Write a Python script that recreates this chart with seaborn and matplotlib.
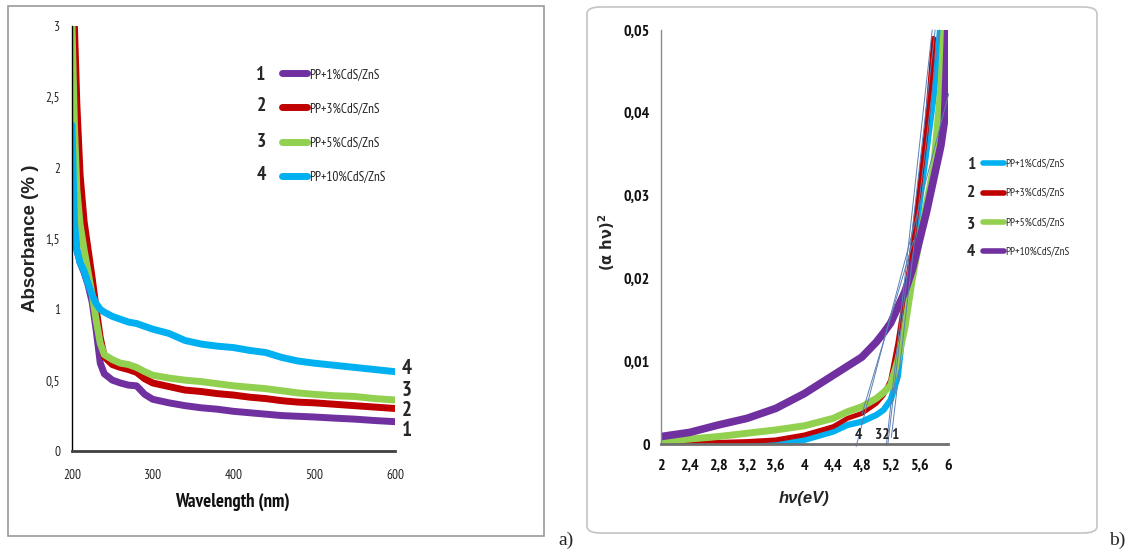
import numpy as np
import pandas as pd
import matplotlib
matplotlib.use("Agg")
import matplotlib.pyplot as plt
import seaborn as sns
from matplotlib.lines import Line2D
from matplotlib.patches import Rectangle, FancyBboxPatch
from matplotlib import font_manager

# ---------------- data: panel a) ----------------
wavelength = [200, 203, 206, 210, 215, 220, 225, 230, 235, 240, 250, 260, 270, 280, 290,
              300, 320, 340, 360, 380, 400, 420, 440, 460, 480, 500, 525, 550, 575, 600]
abs_1 = [2.00, 1.60, 1.42, 1.33, 1.26, 1.17, 1.05, 0.85, 0.62, 0.545, 0.50, 0.48, 0.465, 0.46, 0.40,
         0.365, 0.34, 0.32, 0.305, 0.295, 0.28, 0.27, 0.26, 0.25, 0.245, 0.24, 0.232, 0.225, 0.215, 0.207]
abs_3 = [np.nan, 3.00, 2.45, 1.95, 1.62, 1.42, 1.22, 1.00, 0.80, 0.665, 0.61, 0.59, 0.575, 0.555, 0.51,
         0.48, 0.455, 0.43, 0.42, 0.405, 0.395, 0.38, 0.37, 0.355, 0.345, 0.34, 0.33, 0.32, 0.31, 0.30]
abs_5 = [3.00, 2.30, 1.85, 1.60, 1.42, 1.26, 1.10, 0.92, 0.76, 0.68, 0.645, 0.62, 0.61, 0.59, 0.56,
         0.535, 0.515, 0.50, 0.49, 0.475, 0.46, 0.45, 0.44, 0.425, 0.41, 0.40, 0.39, 0.385, 0.37, 0.36]
abs_10 = [2.30, 1.62, 1.42, 1.33, 1.27, 1.18, 1.10, 1.04, 1.00, 0.98, 0.95, 0.93, 0.91, 0.90, 0.88,
          0.86, 0.83, 0.78, 0.755, 0.74, 0.73, 0.71, 0.695, 0.66, 0.635, 0.62, 0.605, 0.59, 0.575, 0.56]

# ---------------- data: panel b) ----------------
hv = [2.0, 2.4, 2.8, 3.2, 3.6, 4.0, 4.4, 4.6, 4.8, 5.0, 5.1, 5.2, 5.3, 5.4, 5.5, 5.6, 5.7, 5.8, 5.9, 5.95, 6.0]
ahv_1 = [0.0, 0.0, 0.0, 0.0, 0.0002, 0.0005, 0.0015, 0.0023, 0.0027, 0.0035, 0.0041, 0.0053, 0.0081,
         0.0161, 0.0222, 0.0288, 0.0354, 0.0420, 0.0510, np.nan, np.nan]
ahv_3 = [0.0, 0.0001, 0.0002, 0.0003, 0.0005, 0.0011, 0.0021, 0.0031, 0.0037, 0.0049, 0.0059, 0.0077,
         0.0122, 0.0177, 0.0235, 0.0306, 0.0380, 0.0490, np.nan, np.nan, np.nan]
ahv_5 = [0.0003, 0.0006, 0.0009, 0.0013, 0.0017, 0.0022, 0.0031, 0.0039, 0.0045, 0.0055, 0.0062, 0.0071,
         0.0101, 0.0141, 0.0198, 0.0245, 0.0290, 0.0335, 0.0430, 0.0510, np.nan]
ahv_10 = [0.0009, 0.0014, 0.0023, 0.0031, 0.0043, 0.0061, 0.0083, 0.0094, 0.0105, 0.0123, 0.0134, 0.0146,
          0.0165, 0.0184, 0.0210, 0.0245, 0.0280, 0.0320, 0.0360, 0.0390, 0.0510]

# tangent (extrapolation) lines: x-start, y-start, x-end, y-end
tan_x0 = [4.72, 4.80, 5.14, 5.16, 5.21]
tan_y0 = [-0.0003, 0.0036, -0.0002, -0.0002, 0.0008]
tan_x1 = [6.01, 5.52, 5.78, 5.82, 5.88]
tan_y1 = [0.0423, 0.0246, 0.0500, 0.0500, 0.0500]

labels = ["PP+1%CdS/ZnS", "PP+3%CdS/ZnS", "PP+5%CdS/ZnS", "PP+10%CdS/ZnS"]
left_ticks_y = [0, 0.5, 1, 1.5, 2, 2.5, 3]
left_ticklabels_y = ["0", "0,5", "1", "1,5", "2", "2,5", "3"]
left_ticks_x = [200, 300, 400, 500, 600]
right_ticks_y = [0, 0.01, 0.02, 0.03, 0.04, 0.05]
right_ticklabels_y = ["0", "0,01", "0,02", "0,03", "0,04", "0,05"]
right_ticks_x = [2, 2.4, 2.8, 3.2, 3.6, 4, 4.4, 4.8, 5.2, 5.6, 6]
right_ticklabels_x = ["2", "2,4", "2,8", "3,2", "3,6", "4", "4,4", "4,8", "5,2", "5,6", "6"]

PURPLE, RED, GREEN, CYAN = "#7030A0", "#C00000", "#92D050", "#00B0F0"

sns.set_theme(style="white")

# look for a narrow / condensed sans font that also has a bold face
ttf = font_manager.fontManager.ttflist
fam_weights = {}
for f in ttf:
    w = f.weight if isinstance(f.weight, int) else 400
    fam_weights.setdefault(f.name, set()).add(w)
NARROW, K = None, 1.0
cands = [n for n in fam_weights if ("Narrow" in n or "Condensed" in n)
         and not any(b in n for b in ["Light", "Thin", "Medium", "Black", "Semi", "Extra", "Mono"])]
cands.sort(key=lambda n: (0 if "Narrow" in n else 1))
for n in cands:
    ws = fam_weights[n]
    if any(w >= 650 for w in ws) and any(350 <= w <= 450 for w in ws):
        NARROW = n
        break
if NARROW is None:
    NARROW, K = "Liberation Sans", 0.84
plt.rcParams["font.family"] = [NARROW, "DejaVu Sans"]

W, H = 1130, 554
fig = plt.figure(figsize=(W / 100, H / 100), dpi=100)

def fx(px):
    return px / W

def fy(py):
    return 1 - py / H

# frames
fig.add_artist(Rectangle((fx(8), fy(536)), fx(544) - fx(8), fy(6) - fy(536),
                         transform=fig.transFigure, fill=False, ec="#9a9a9a", lw=1.2))
fig.add_artist(FancyBboxPatch((fx(587), fy(533)), fx(1097) - fx(587), fy(7) - fy(533),
                              boxstyle="round,pad=0,rounding_size=0.012",
                              transform=fig.transFigure, fill=False, ec="#c4c4c4", lw=1.2))

# ---------------- panel a ----------------
axa = fig.add_axes([fx(72), fy(451), fx(395) - fx(72), fy(26) - fy(451)])
dfa = pd.DataFrame({"wl": wavelength * 4,
                    "A": abs_1 + abs_3 + abs_5 + abs_10,
                    "s": sum([[l] * len(wavelength) for l in labels], [])}).dropna()
sns.lineplot(data=dfa, x="wl", y="A", hue="s", hue_order=labels,
             palette=[PURPLE, RED, GREEN, CYAN], lw=5, legend=False, ax=axa,
             sort=False, estimator=None, solid_capstyle="round")
axa.set_xlim(200, 600)
axa.set_ylim(0, 3)
axa.set_xticks(left_ticks_x)
axa.set_xticklabels([str(t) for t in left_ticks_x])
axa.set_yticks(left_ticks_y)
axa.set_yticklabels(left_ticklabels_y)
axa.tick_params(axis="y", length=0, pad=8.5, labelsize=9.5 * K, colors="#222222")
axa.tick_params(axis="x", length=0, pad=13, labelsize=9.5 * K, colors="#222222")
axa.set_xlabel("")
axa.set_ylabel("")
for s in ["top", "right"]:
    axa.spines[s].set_visible(False)
axa.spines["left"].set_color("#000000")
axa.spines["left"].set_linewidth(1.0)
axa.spines["bottom"].set_color("#404040")
axa.spines["bottom"].set_linewidth(2.0)
axa.patch.set_alpha(0)

la = axa.legend(handles=[Line2D([], [], color=c, lw=5, solid_capstyle="round") for c in [PURPLE, RED, GREEN, CYAN]],
                labels=labels, loc="upper left", bbox_to_anchor=(fx(282), fy(68)),
                bbox_transform=fig.transFigure, frameon=False, fontsize=9.5 * K,
                handlelength=1.9 / K, handletextpad=0.15, labelspacing=1.6 / K,
                borderpad=0, borderaxespad=0)
for t in la.get_texts():
    t.set_color("#222222")
for num, py in zip(["1", "2", "3", "4"], [75, 106, 142, 175]):
    fig.text(fx(261), fy(py), num, ha="center", va="center", fontsize=14 * K, fontweight="bold")
for num, py in zip(["4", "3", "2", "1"], [368, 390, 410, 431]):
    fig.text(fx(407), fy(py), num, ha="center", va="center", fontsize=15 * K, fontweight="bold")

fig.text(fx(31), fy(238), "Absorbance (% )", rotation=90, ha="center", va="center",
         fontsize=13.5, fontweight="bold", family=["Liberation Sans", "DejaVu Sans"], color="#222222")
fig.text(fx(232), fy(502), "Wavelength (nm)", ha="center", va="center",
         fontsize=13.5 * K, fontweight="bold", color="#111111")

# ---------------- panel b ----------------
axb = fig.add_axes([fx(661), fy(444), fx(948) - fx(661), fy(30) - fy(444)])
cols_b = [CYAN, RED, GREEN, PURPLE]
lws_b = [4.5, 3.5, 5, 5.5]
for yv, c, w in zip([ahv_1, ahv_3, ahv_5, ahv_10], cols_b, lws_b):
    d = pd.DataFrame({"hv": hv, "y": yv}).dropna()
    sns.lineplot(data=d, x="hv", y="y", color=c, lw=w, ax=axb, sort=False,
                 estimator=None, solid_capstyle="round")
for x0, y0, x1, y1 in zip(tan_x0, tan_y0, tan_x1, tan_y1):
    axb.plot([x0, x1], [y0, y1], color="#5b7fb5", lw=0.7, clip_on=False)
axb.set_xlim(2, 6)
axb.set_ylim(0, 0.05)
axb.set_xticks(right_ticks_x)
axb.set_xticklabels(right_ticklabels_x)
axb.set_yticks(right_ticks_y)
axb.set_yticklabels(right_ticklabels_y)
axb.tick_params(axis="y", length=0, pad=8, labelsize=11.5 * K, colors="#111111")
axb.tick_params(axis="x", length=0, pad=11, labelsize=11.5 * K, colors="#111111")
for t in axb.get_xticklabels() + axb.get_yticklabels():
    t.set_fontweight("bold")
axb.set_xlabel("")
axb.set_ylabel("")
for s in ["top", "right"]:
    axb.spines[s].set_visible(False)
axb.spines["left"].set_color("#8a8a8a")
axb.spines["left"].set_linewidth(1.0)
axb.spines["bottom"].set_color("#707070")
axb.spines["bottom"].set_linewidth(2.0)
axb.patch.set_alpha(0)

axb.text(4.75, 0.0003, "4", ha="center", va="bottom", fontsize=11 * K, fontweight="bold")
axb.text(5.08, 0.0003, "32", ha="center", va="bottom", fontsize=11 * K, fontweight="bold")
axb.text(5.26, 0.0003, "1", ha="center", va="bottom", fontsize=11 * K, fontweight="bold")

lb = axb.legend(handles=[Line2D([], [], color=c, lw=4, solid_capstyle="round") for c in cols_b],
                labels=labels, loc="upper left", bbox_to_anchor=(fx(983), fy(159)),
                bbox_transform=fig.transFigure, frameon=False, fontsize=8 * K,
                handlelength=1.9 / K, handletextpad=0.1, labelspacing=1.75 / K,
                borderpad=0, borderaxespad=0)
for num, py in zip(["1", "2", "3", "4"], [165, 193, 225, 252]):
    fig.text(fx(971), fy(py), num, ha="center", va="center", fontsize=12.5 * K, fontweight="bold")

fig.text(fx(607), fy(242), "(α hν)$^{\\mathbf{2}}$", rotation=90, ha="center", va="center",
         fontsize=10.5, fontweight="bold", family=["DejaVu Sans"])
fig.text(fx(804), fy(498), "hν(eV)", ha="center", va="center", fontsize=12,
         fontweight="bold", fontstyle="italic", family=["Liberation Sans", "DejaVu Sans"])

fig.text(fx(566), fy(540), "a)", ha="center", va="center", fontsize=14,
         family=["Liberation Serif", "DejaVu Serif"])
fig.text(fx(1117), fy(540), "b)", ha="center", va="center", fontsize=14,
         family=["Liberation Serif", "DejaVu Serif"])

fig.savefig("out.png", dpi=100)
